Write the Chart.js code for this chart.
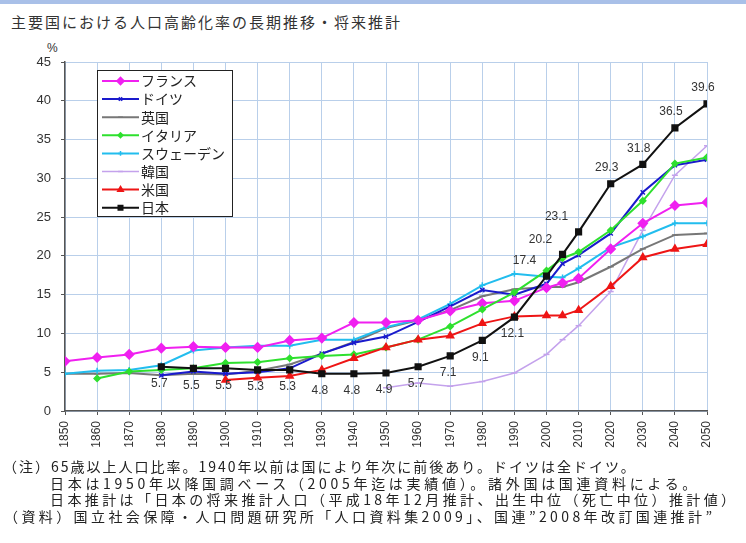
<!DOCTYPE html>
<html>
<head>
<meta charset="utf-8">
<script src="https://cdn.jsdelivr.net/npm/chart.js"></script>
<style>
  body { margin: 0; background: #fff; width: 746px; height: 543px; position: relative; overflow: hidden; }
  #band { position: absolute; left: 0; top: 0; width: 746px; height: 4px; background: #a9c0e8; }
  #title { position: absolute; left: 11px; top: 11px; font: 15px "Noto Sans CJK JP"; letter-spacing: 2px; color: #333; white-space: nowrap; }
  #pct { position: absolute; left: 47px; top: 41px; font: 12px "Liberation Sans"; color: #333; }
  #wrap { position: absolute; left: 0; top: 0; width: 746px; height: 460px; }
  .note { position: absolute; font: 14px "Noto Sans CJK JP"; color: #222; white-space: nowrap; line-height: 17px; }
</style>
</head>
<body>
<div id="band"></div>
<div id="title">主要国における人口高齢化率の長期推移・将来推計</div>
<div id="pct">%</div>
<div id="wrap"><canvas id="chartAging" width="746" height="460"></canvas></div>
<div class="note" style="left:3px;top:458px;letter-spacing:2px">（注）65歳以上人口比率。1940年以前は国により年次に前後あり。ドイツは全ドイツ。</div>
<div class="note" style="left:50px;top:475px;letter-spacing:3.7px">日本は1950年以降国調ベース（2005年迄は実績値）。諸外国は国連資料による。</div>
<div class="note" style="left:50px;top:491px;letter-spacing:3.4px">日本推計は「日本の将来推計人口（平成18年12月推計、出生中位（死亡中位）推計値）</div>
<div class="note" style="left:4px;top:508px;letter-spacing:3.4px">（資料）国立社会保障・人口問題研究所「人口資料集2009」、国連”2008年改訂国連推計”</div>

<script>
    // 年次（2005年だけ中間点あり）
    const years = [1850,1860,1870,1880,1890,1900,1910,1920,1930,1940,1950,1960,1970,1980,1990,2000,2005,2010,2020,2030,2040,2050];

    // 各国の高齢化率（%）
    const france  = [6.4,6.9,7.3,8.1,8.3,8.2,8.2,9.1,9.4,11.4,11.4,11.7,12.9,13.9,14.2,15.9,16.5,17.1,20.9,24.2,26.5,26.9];
    const germany = [null,null,null,4.6,5.1,4.8,5.0,5.5,7.4,8.8,9.6,11.5,13.5,15.6,15.0,16.4,19.0,20.1,22.9,28.2,31.7,32.4];
    const uk      = [4.8,4.8,4.9,4.6,4.8,4.7,5.2,6.0,7.4,8.9,10.7,11.7,13.0,14.8,15.7,16.0,16.0,16.6,18.6,20.9,22.7,22.9];
    const italy   = [null,4.2,5.1,5.3,5.5,6.2,6.3,6.8,7.1,7.3,8.2,9.2,10.9,13.1,15.3,18.1,19.7,20.5,23.3,27.1,31.9,32.7];
    const sweden  = [4.8,5.2,5.3,5.9,7.8,8.2,8.4,8.4,9.2,9.2,10.8,11.8,13.8,16.2,17.7,17.3,17.2,18.4,21.1,22.5,24.2,24.2];
    const korea   = [null,null,null,null,null,null,null,null,null,null,3.0,3.6,3.2,3.8,4.9,7.3,9.2,11.0,15.4,23.3,30.4,34.2];
    const usa     = [null,null,null,null,null,4.0,4.3,4.5,5.3,6.8,8.2,9.2,9.7,11.3,12.2,12.3,12.3,13.0,16.1,19.8,20.9,21.5];
    const japan   = [null,null,null,5.7,5.5,5.5,5.3,5.3,4.8,4.8,4.9,5.7,7.1,9.1,12.1,17.4,20.2,23.1,29.3,31.8,36.5,39.6];

    const countryNames = ['フランス','ドイツ','英国','イタリア','スウェーデン','韓国','米国','日本'];
    const yTicks = [0,5,10,15,20,25,30,35,40,45];

    function pts(vals) {
        return years.map((yr, i) => ({ x: yr, y: vals[i] }));
    }

    function series(i, vals, color, style, radius, width, order) {
        return {
            label: countryNames[i],
            data: pts(vals),
            borderColor: color,
            backgroundColor: color,
            pointStyle: style,
            pointRadius: radius,
            pointBorderColor: color,
            pointBackgroundColor: color,
            pointBorderWidth: 1.5,
            borderWidth: width,
            tension: 0,
            order: order
        };
    }

    let datasets = [
        series(0, france,  '#f020f0', 'rectRot',  4.5, 2, 3),
        series(1, germany, '#1a1acc', 'crossRot', 3, 2, 4),
        series(2, uk,      '#777777', 'line',     3, 2, 6),
        series(3, italy,   '#2ee02e', 'rectRot',  3, 2, 2),
        series(4, sweden,  '#22bdee', 'cross',    3, 2, 5),
        series(5, korea,   '#c4a2ec', 'line',     3, 1.5, 7),
        series(6, usa,     '#ee1515', 'triangle', 4, 2, 1),
        series(7, japan,   '#111111', 'rect',     4, 2, 0)
    ];

    // 凡例（グラフ内の枠）
    const boxLegend = {
        id: 'boxLegend',
        afterDraw(chart) {
            const ctx = chart.ctx;
            const x0 = 97, y0 = 70, w = 135, h = 146;
            ctx.save();
            ctx.fillStyle = '#fff';
            ctx.fillRect(x0, y0, w, h);
            ctx.strokeStyle = '#222';
            ctx.lineWidth = 1;
            ctx.strokeRect(x0 + 0.5, y0 + 0.5, w, h);
            chart.data.datasets.forEach((ds, i) => {
                const y = y0 + 11 + i * 18.1;
                ctx.strokeStyle = ds.borderColor;
                ctx.lineWidth = ds.borderWidth;
                ctx.beginPath();
                ctx.moveTo(102, y);
                ctx.lineTo(139, y);
                ctx.stroke();
                ctx.fillStyle = ds.backgroundColor;
                ctx.lineWidth = 1.5;
                Chart.helpers.drawPoint(ctx, { pointStyle: ds.pointStyle, radius: ds.pointRadius * 0.8, rotation: 0, borderWidth: 1.5 }, 120.5, y);
                ctx.fillStyle = '#222';
                ctx.font = '14px "Noto Sans CJK JP"';
                ctx.textAlign = 'left';
                ctx.textBaseline = 'middle';
                ctx.fillText(ds.label, 141, y);
            });
            ctx.restore();
        }
    };

    // 日本の数値ラベル
    const japanLabels = {
        id: 'japanLabels',
        afterDatasetsDraw(chart) {
            const ctx = chart.ctx;
            const meta = chart.getDatasetMeta(7);
            ctx.save();
            ctx.fillStyle = '#333';
            ctx.font = '12px "Liberation Sans"';
            ctx.textAlign = 'center';
            ctx.textBaseline = 'middle';
            meta.data.forEach((p, i) => {
                const v = japan[i];
                if (v === null) return;
                let dx = -2, dy = 17;
                if (years[i] >= 2000 && years[i] <= 2010) { dx = -22; dy = -15; }
                else if (years[i] > 2010) { dx = -4; dy = -16; }
                ctx.fillText(v.toFixed(1), p.x + dx, p.y + dy);
            });
            ctx.restore();
        }
    };

    let ctx = document.getElementById('chartAging').getContext('2d');
    let myChart = new Chart(ctx, {
        type: 'line',
        data: { datasets: datasets },
        options: {
            responsive: false,
            animation: false,
            layout: { padding: { left: 0, right: 39, top: 62, bottom: 0 } },
            plugins: { legend: { display: false }, tooltip: { enabled: false } },
            scales: {
                x: {
                    type: 'linear',
                    min: 1850,
                    max: 2050,
                    afterFit(scale) { scale.height = 49; },
                    afterBuildTicks(scale) {
                        scale.ticks = [];
                        for (let i = 0; i < years.length; i++) {
                            if (years[i] % 10 === 0) scale.ticks.push({ value: years[i] });
                        }
                    },
                    grid: { color: '#b9cfea', lineWidth: 1, tickLength: 4, tickColor: '#555' },
                    border: { color: '#555', width: 1.5 },
                    ticks: {
                        minRotation: 90,
                        maxRotation: 90,
                        padding: 6,
                        color: '#333',
                        font: { family: 'Liberation Sans', size: 12 },
                        callback: v => String(v)
                    }
                },
                y: {
                    min: 0,
                    max: 45,
                    afterFit(scale) { scale.width = 65; },
                    afterBuildTicks(scale) { scale.ticks = yTicks.map(v => ({ value: v })); },
                    grid: { color: '#b9cfea', lineWidth: 1, tickLength: 4, tickColor: '#555' },
                    border: { color: '#555', width: 1.5 },
                    ticks: {
                        padding: 10,
                        color: '#333',
                        font: { family: 'Liberation Sans', size: 13 }
                    }
                }
            }
        },
        plugins: [japanLabels, boxLegend]
    });
</script>
</body>
</html>
